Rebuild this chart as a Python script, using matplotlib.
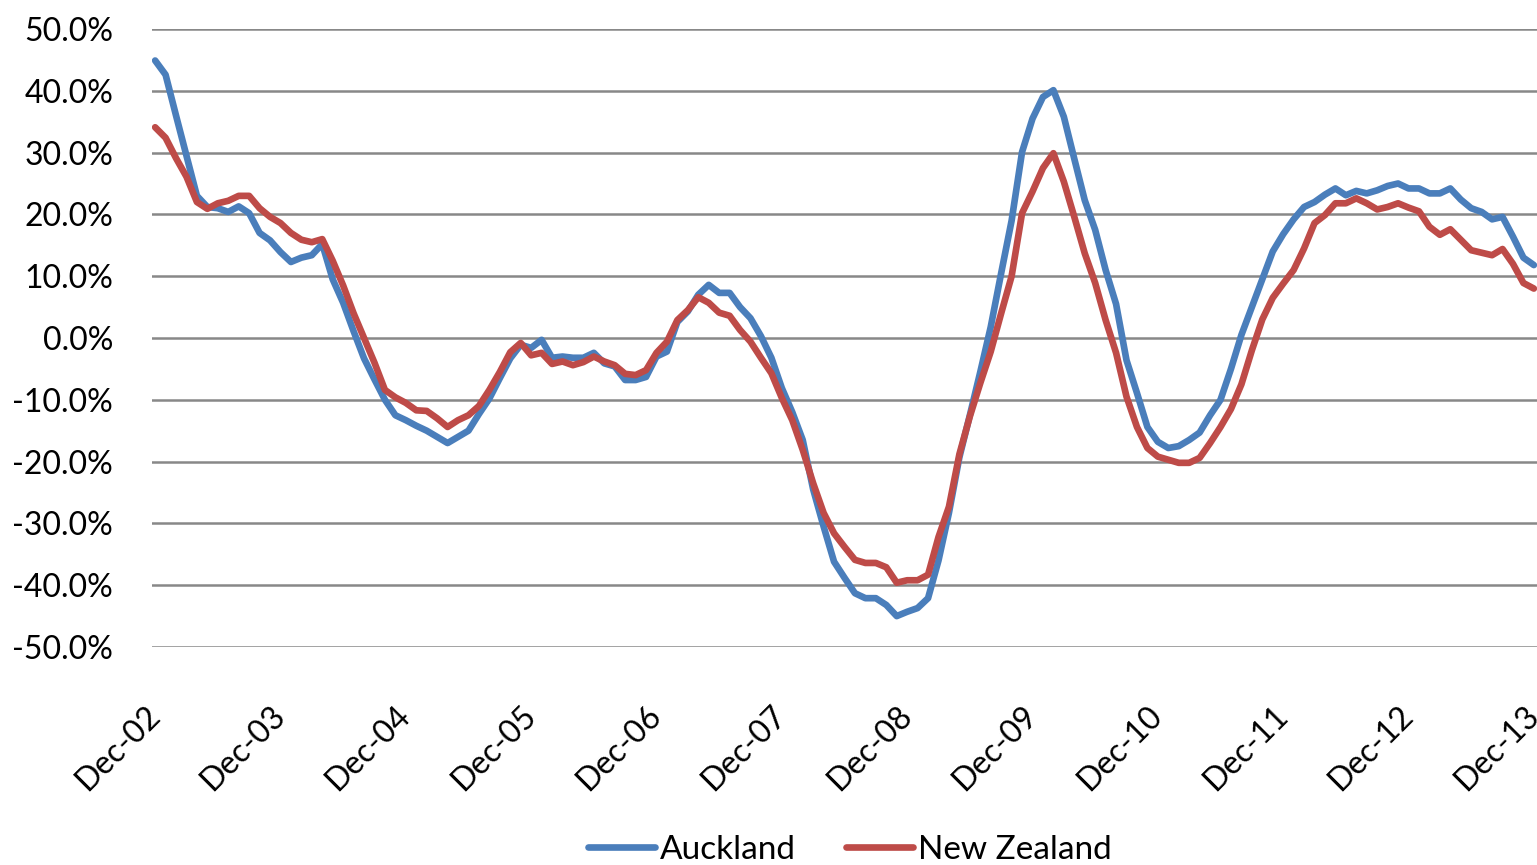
import matplotlib
matplotlib.use("Agg")
import matplotlib.pyplot as plt
import numpy as np

# Annual % change, monthly from Dec-2002 to Dec-2013
auckland = [
    44.9, 42.6, 36.0, 29.5, 23.0, 21.2, 21.0, 20.4, 21.3, 20.2, 17.0, 15.8,
    13.9, 12.3, 13.0, 13.4, 15.2, 9.5, 5.7, 1.1, -3.3, -6.7, -10.0, -12.5,
    -13.3, -14.2, -15.0, -16.0, -17.0, -16.0, -15.0, -12.3, -9.8, -6.5, -3.3, -1.1,
    -1.6, -0.3, -3.2, -3.0, -3.2, -3.2, -2.4, -4.1, -4.6, -6.8, -6.8, -6.3,
    -3.0, -2.2, 2.6, 4.3, 7.0, 8.6, 7.3, 7.3, 5.0, 3.2, 0.3, -3.2,
    -8.1, -12.0, -16.5, -24.5, -30.5, -36.2, -38.8, -41.3, -42.1, -42.1, -43.2, -45.0,
    -44.3, -43.7, -42.1, -36.0, -28.3, -19.3, -12.5, -5.5, 1.8, 10.5, 19.0, 30.1,
    35.5, 39.0, 40.1, 35.8, 29.0, 22.3, 17.5, 11.0, 5.5, -3.6, -8.9, -14.4,
    -16.8, -17.8, -17.5, -16.5, -15.3, -12.5, -10.0, -5.0, 0.5, 5.0, 9.5, 14.0,
    16.8, 19.2, 21.2, 22.0, 23.2, 24.2, 23.1, 23.8, 23.4, 23.9, 24.6, 25.0,
    24.2, 24.2, 23.4, 23.4, 24.2, 22.4, 21.0, 20.4, 19.2, 19.6, 16.4, 13.0,
    11.8,
]
new_zealand = [
    34.1, 32.4, 29.1, 26.1, 22.0, 20.9, 21.8, 22.2, 23.0, 23.0, 21.0, 19.6,
    18.6, 17.0, 15.9, 15.5, 16.0, 12.5, 8.5, 4.0, 0.0, -4.0, -8.4, -9.6,
    -10.5, -11.7, -11.8, -13.0, -14.4, -13.3, -12.5, -11.0, -8.4, -5.5, -2.3, -0.8,
    -2.8, -2.4, -4.2, -3.8, -4.4, -3.9, -3.0, -3.8, -4.4, -5.8, -6.0, -5.2,
    -2.4, -0.6, 2.9, 4.5, 6.6, 5.7, 4.1, 3.6, 1.3, -0.6, -3.2, -5.7,
    -9.7, -13.3, -18.1, -23.5, -28.3, -31.6, -33.8, -35.9, -36.4, -36.4, -37.1, -39.6,
    -39.2, -39.2, -38.3, -32.2, -27.3, -18.8, -12.7, -7.3, -2.2, 4.0, 10.0, 20.2,
    23.7, 27.5, 29.9, 25.3, 19.6, 13.7, 8.9, 2.9, -2.4, -9.5, -14.4, -17.8,
    -19.2, -19.7, -20.2, -20.2, -19.4, -17.0, -14.4, -11.5, -7.5, -2.0, 3.0, 6.5,
    8.8, 11.0, 14.5, 18.6, 19.9, 21.8, 21.8, 22.6, 21.8, 20.8, 21.2, 21.8,
    21.1, 20.5, 18.0, 16.7, 17.6, 15.9, 14.2, 13.8, 13.4, 14.4, 12.0, 8.9,
    8.0,
]
year_labels = ["Dec-02", "Dec-03", "Dec-04", "Dec-05", "Dec-06", "Dec-07",
               "Dec-08", "Dec-09", "Dec-10", "Dec-11", "Dec-12", "Dec-13"]
y_ticks = [50, 40, 30, 20, 10, 0, -10, -20, -30, -40, -50]

plt.rcParams["font.family"] = ["Lato", "DejaVu Sans"]

W, H = 1537, 865
fig = plt.figure(figsize=(W / 100, H / 100), dpi=100)
ax = fig.add_axes([152 / W, 1 - 647 / H, 1 - 152 / W, (647 - 29) / H])

months = np.arange(len(auckland))
ax.plot(months, auckland, color="#4A7EBB", lw=4.8, label="Auckland",
        solid_joinstyle="round", solid_capstyle="round", zorder=3)
ax.plot(months, new_zealand, color="#BE4B48", lw=4.8, label="New Zealand",
        solid_joinstyle="round", solid_capstyle="round", zorder=4)

ax.set_xlim(-0.3, len(auckland) - 1 + 0.3)
ax.set_ylim(-50, 50)

ax.set_yticks(y_ticks)
ax.set_yticklabels([f"{v:.1f}%" for v in y_ticks])
ax.set_xticks(np.arange(0, len(auckland), 12))
ax.set_xticklabels(year_labels, rotation=45, ha="right", va="center",
                   rotation_mode="anchor")

ax.tick_params(axis="y", length=0, pad=28, labelsize=23, labelcolor="black")
ax.tick_params(axis="x", length=0, pad=46, labelsize=23, labelcolor="black")

ax.grid(axis="y", color="#888888", lw=1.8)
ax.set_axisbelow(True)
for s in ax.spines.values():
    s.set_visible(False)

fig.legend(loc="center", bbox_to_anchor=(850 / W, 1 - 850 / H), ncol=2,
           frameon=False, fontsize=24, handlelength=2.0, handletextpad=0.15,
           columnspacing=1.5, borderpad=0, borderaxespad=0)

fig.savefig("out.png", dpi=100)
